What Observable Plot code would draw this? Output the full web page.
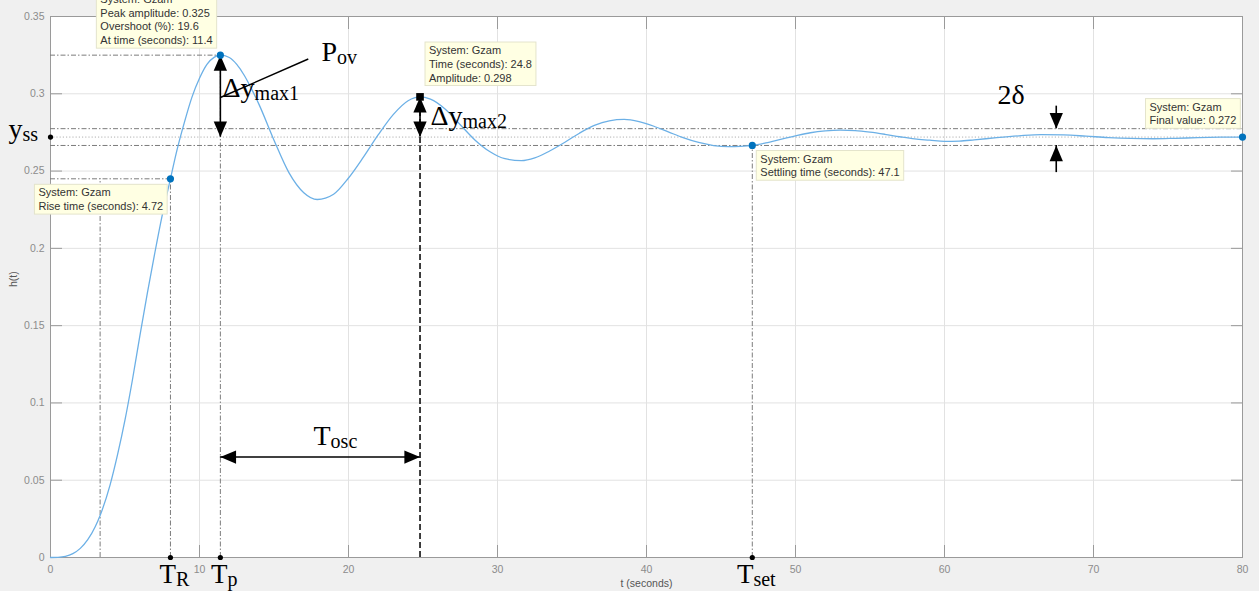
<!DOCTYPE html>
<html>
<head>
<meta charset="utf-8">
<script src="https://cdn.jsdelivr.net/npm/d3@7"></script>
<script src="https://cdn.jsdelivr.net/npm/@observablehq/plot@0.6"></script>
<style>
  html, body { margin: 0; padding: 0; background: #f0f0f0; }
  #chart { width: 1259px; height: 591px; overflow: hidden; }
</style>
</head>
<body>
<div id="chart"></div>
<script>
// Step response h(t) of the system Gzam (time in seconds)
const tValues = [0, 0.5, 1, 1.5, 2, 2.5, 3, 3.33, 4, 4.5, 5, 5.5, 6, 6.5, 7, 7.5, 8.05, 8.5, 9, 9.5, 10, 10.5, 11, 11.4,
  12, 12.5, 13, 13.5, 14, 15, 16, 17, 17.9, 19, 20, 21, 22, 23, 24, 24.8, 25.5, 26.5, 27.5, 28.5, 29.5, 30.5, 31.6,
  32.5, 33.5, 34.5, 35.5, 36.5, 37.5, 38.5, 39.5, 40.5, 41.5, 42.5, 43.5, 44.5, 45.5, 46.3, 47.1, 48, 49, 50, 51, 52,
  53, 54, 55, 56, 57, 58, 59, 60, 61, 62, 63.5, 65, 66.5, 68, 69.5, 71, 72.5, 74, 75.5, 77, 78.5, 80];
const hValues = [0, 0.0001, 0.0007, 0.0025, 0.0059, 0.0115, 0.0199, 0.0272, 0.047, 0.0665, 0.089, 0.115, 0.1435, 0.171, 0.197, 0.2215, 0.245, 0.264, 0.282, 0.298, 0.31, 0.319, 0.3237, 0.325,
  0.3235, 0.319, 0.312, 0.303, 0.293, 0.27, 0.249, 0.236, 0.2316, 0.235, 0.2455, 0.259, 0.2735, 0.2865, 0.2955, 0.298, 0.2965, 0.29, 0.28, 0.27, 0.2625, 0.258, 0.2567,
  0.2585, 0.263, 0.2685, 0.2745, 0.2795, 0.2825, 0.2834, 0.282, 0.279, 0.2752, 0.2715, 0.2685, 0.2665, 0.2658, 0.266, 0.2666, 0.2682, 0.2705, 0.2728, 0.2748, 0.276,
  0.2765, 0.2762, 0.2752, 0.2738, 0.2722, 0.2708, 0.27, 0.2692, 0.2694, 0.2702, 0.2716, 0.2728, 0.2736, 0.2734, 0.2726, 0.2717, 0.2711, 0.2709, 0.2712, 0.2716, 0.2719, 0.272];

// Step-response characteristics
const riseEnd = 8.05, riseTime = 4.72, riseLevel = 0.245;
const peakTime = 11.4, peakAmplitude = 0.325, overshoot = 19.6;
const secondPeakTime = 24.8, secondPeakAmplitude = 0.298;
const settlingTime = 47.1;
const finalValue = 0.272;
const bandTolerance = 0.02;
const toscLevel = 0.065;               // height of the T_osc arrow
const deltaArrowTime = 67.5;           // where the 2δ arrows sit
const deltaArrowEnds = [0.292, 0.249]; // tails of the two 2δ arrows
const povLeader = {t1: peakTime, h1: 0.2976, t2: 17.3, h2: 0.3225};

// Axes
const xTicks = [0, 10, 20, 30, 40, 50, 60, 70, 80];
const xTickLabels = ["0", "10", "20", "30", "40", "50", "60", "70", "80"];
const yTicks = [0, 0.05, 0.1, 0.15, 0.2, 0.25, 0.3, 0.35];
const yTickLabels = ["0", "0.05", "0.1", "0.15", "0.2", "0.25", "0.3", "0.35"];

// Symbol labels (main letter + subscript) and their anchors
const freeSymbols = [
  {main: "P", sub: "ov", t: 18.19, h: 0.3215},
  {main: "\u0394y", sub: "max1", t: 11.55, h: 0.2976},
  {main: "\u0394y", sub: "max2", t: 25.5, h: 0.2795},
  {main: "T", sub: "osc", t: 17.65, h: 0.0725},
  {main: "2\u03b4", sub: "", t: 63.56, h: 0.2937},
  {main: "y", sub: "ss", t: -2.82, h: 0.2711}
];
const timeSymbols = [
  {main: "T", sub: "R", t: riseEnd},
  {main: "T", sub: "p", t: peakTime},
  {main: "T", sub: "set", t: settlingTime}
];

// Data-tip contents
const riseStart = +(riseEnd - riseTime).toFixed(2);
const bandLow = finalValue * (1 - bandTolerance);
const bandHigh = finalValue * (1 + bandTolerance);
const tips = [
  {t: peakTime, h: peakAmplitude, lines: ["System: Gzam", `Peak amplitude: ${peakAmplitude}`, `Overshoot (%): ${overshoot}`, `At time (seconds): ${peakTime}`]},
  {t: riseEnd, h: riseLevel, lines: ["System: Gzam", `Rise time (seconds): ${riseTime}`]},
  {t: secondPeakTime, h: secondPeakAmplitude, lines: ["System: Gzam", `Time (seconds): ${secondPeakTime}`, `Amplitude: ${secondPeakAmplitude}`]},
  {t: settlingTime, h: bandLow, lines: ["System: Gzam", `Settling time (seconds): ${settlingTime}`]},
  {t: 80, h: finalValue, lines: ["System: Gzam", `Final value: ${finalValue}`]}
];
// pixel offsets of each data-tip text block from its point
const tipOffsets = [[-120, -36], [-132, 20], [9, -33.5], [8, 19.5], [-93, -24]];

const response = tValues.map((t, i) => ({t, h: hValues[i]}));

// Filled arrowhead with its tip at the origin, pointing up
const arrowHead = {
  draw(context, size) {
    const r = Math.sqrt(size / Math.PI);
    context.moveTo(0, 0);
    context.lineTo(-0.7 * r, 1.65 * r);
    context.lineTo(0.7 * r, 1.65 * r);
    context.closePath();
  }
};
const heads = [
  {t: peakTime, h: peakAmplitude, dir: 0},
  {t: peakTime, h: finalValue, dir: 180},
  {t: secondPeakTime, h: secondPeakAmplitude, dir: 0},
  {t: secondPeakTime, h: finalValue, dir: 180},
  {t: peakTime, h: toscLevel, dir: -90},
  {t: secondPeakTime, h: toscLevel, dir: 90},
  {t: deltaArrowTime, h: bandHigh, dir: 180},
  {t: deltaArrowTime, h: bandLow, dir: 0}
];

const guide = {stroke: "#7c7c7c", strokeWidth: 1, strokeDasharray: "5,2,1.5,2"};
const ink = {stroke: "black", strokeWidth: 1.6};
const serif = "'Liberation Serif', 'Times New Roman', serif";
const sans = "'Liberation Sans', Arial, Helvetica, sans-serif";
const axisGray = "#9a9a9a";

const plot = Plot.plot({
  width: 1259,
  height: 591,
  marginTop: 16,
  marginRight: 17,
  marginBottom: 34,
  marginLeft: 50,
  style: {background: "transparent", fontFamily: sans, overflow: "hidden"},
  x: {domain: [0, 80]},
  y: {domain: [0, 0.35]},
  marks: [
    Plot.frame({fill: "white", stroke: "none"}),
    Plot.gridX(xTicks, {stroke: "#e2e2e2", strokeOpacity: 1}),
    Plot.gridY(yTicks, {stroke: "#e2e2e2", strokeOpacity: 1}),

    // inward ticks on all four sides
    Plot.axisX(xTicks, {anchor: "bottom", tickSize: -12, fill: "none", stroke: axisGray, label: null}),
    Plot.axisX(xTicks, {anchor: "top", tickSize: -12, fill: "none", stroke: axisGray, label: null}),
    Plot.axisY(yTicks, {anchor: "left", tickSize: -12, fill: "none", stroke: axisGray, label: null}),
    Plot.axisY(yTicks, {anchor: "right", tickSize: -12, fill: "none", stroke: axisGray, label: null}),
    // tick labels
    Plot.axisX(xTicks, {anchor: "bottom", tickSize: 0, tickPadding: 8, fill: "#8c8c8c", fontSize: 10.5, label: null,
      tickFormat: d => xTickLabels[xTicks.indexOf(d)]}),
    Plot.axisY(yTicks, {anchor: "left", tickSize: 0, tickPadding: 6, fill: "#8c8c8c", fontSize: 10.5, label: null,
      tickFormat: d => yTickLabels[yTicks.indexOf(d)]}),
    Plot.frame({stroke: axisGray, fill: "none"}),
    Plot.text(["t (seconds)"], {frameAnchor: "bottom", lineAnchor: "bottom", dy: 29, fontSize: 10.5, fill: "#555"}),
    Plot.text(["h(t)"], {frameAnchor: "left", rotate: -90, dx: -37, fontSize: 10.5, fill: "#555"}),

    // step-info guide lines
    Plot.ruleY([bandLow, bandHigh], {y: d => d, ...guide}),
    Plot.ruleY([finalValue], {y: d => d, stroke: "#b0b0b0", strokeDasharray: "1.2,2"}),
    Plot.ruleY([peakAmplitude], {y: d => d, x1: 0, x2: peakTime, ...guide}),
    Plot.ruleX([peakTime], {x: d => d, y1: 0, y2: peakAmplitude, ...guide}),
    Plot.ruleY([riseLevel], {y: d => d, x1: 0, x2: riseEnd, ...guide}),
    Plot.ruleX([riseStart, riseEnd], {x: d => d, y1: 0, y2: riseLevel, ...guide}),
    Plot.ruleX([settlingTime], {x: d => d, y1: 0, y2: bandLow, ...guide}),
    Plot.ruleX([secondPeakTime], {x: d => d, y1: 0, y2: secondPeakAmplitude, stroke: "black", strokeWidth: 1.5, strokeDasharray: "6,3"}),

    // response curve
    Plot.line(response, {x: "t", y: "h", stroke: "#6cb0e6", strokeWidth: 1.3, curve: "monotone-x"}),

    // annotation arrows
    Plot.ruleX([peakTime], {x: d => d, y1: peakAmplitude, y2: finalValue, ...ink}),
    Plot.ruleX([secondPeakTime], {x: d => d, y1: secondPeakAmplitude, y2: finalValue, ...ink}),
    Plot.ruleY([toscLevel], {y: d => d, x1: peakTime, x2: secondPeakTime, ...ink}),
    Plot.ruleX([deltaArrowTime], {x: d => d, y1: deltaArrowEnds[0], y2: bandHigh, ...ink}),
    Plot.ruleX([deltaArrowTime], {x: d => d, y1: deltaArrowEnds[1], y2: bandLow, ...ink}),
    Plot.link([povLeader], {x1: "t1", y1: "h1", x2: "t2", y2: "h2", stroke: "black", strokeWidth: 1.4}),
    Plot.dot(heads, {x: "t", y: "h", rotate: "dir", symbol: arrowHead, r: 9.5, fill: "black", stroke: "none"}),

    // markers
    Plot.dot([riseEnd, peakTime, settlingTime], {x: d => d, y: 0, r: 2.6, fill: "black"}),
    Plot.dot([finalValue], {x: 0, y: d => d, r: 2.6, fill: "black"}),
    Plot.dot([[riseEnd, riseLevel], [peakTime, peakAmplitude], [settlingTime, bandLow], [80, finalValue]],
      {x: d => d[0], y: d => d[1], r: 3.6, fill: "#0072BD"}),
    Plot.dot([[secondPeakTime, secondPeakAmplitude]], {x: d => d[0], y: d => d[1], symbol: "square", r: 4.3, fill: "black"}),

    // symbol labels
    Plot.text(freeSymbols, {x: "t", y: "h", text: d => d.main + d.sub, textAnchor: "start", lineAnchor: "bottom",
      fontFamily: serif, fontSize: 28, fill: "black", ariaLabel: () => "symbol"}),
    Plot.text(timeSymbols, {x: "t", y: 0, text: d => d.main + d.sub, textAnchor: "middle", lineAnchor: "bottom",
      dx: 4, dy: 25, fontFamily: serif, fontSize: 27, fill: "black", ariaLabel: () => "symbol"}),

    // data tips
    ...tips.map((tip, i) => Plot.text([tip], {x: "t", y: "h", text: d => d.lines.join("\n"),
      dx: tipOffsets[i][0], dy: tipOffsets[i][1], textAnchor: "start", lineAnchor: "middle",
      lineHeight: 1.25, fontSize: 11, fill: "#333", fontFamily: sans, ariaLabel: () => "datatip"}))
  ]
});

document.getElementById("chart").appendChild(plot);

const NS = "http://www.w3.org/2000/svg";
// subscripts for the symbol labels
const allSymbols = [...freeSymbols, ...timeSymbols];
plot.querySelectorAll('text[aria-label="symbol"]').forEach((el, i) => {
  const s = allSymbols[i];
  el.textContent = "";
  const a = document.createElementNS(NS, "tspan");
  a.textContent = s.main;
  el.appendChild(a);
  if (s.sub) {
    const b = document.createElementNS(NS, "tspan");
    b.setAttribute("font-size", "20");
    b.setAttribute("dy", "3");
    b.textContent = s.sub;
    el.appendChild(b);
  }
});
// pale boxes behind the data tips
plot.querySelectorAll('text[aria-label="datatip"]').forEach(el => {
  const b = el.getBBox();
  const r = document.createElementNS(NS, "rect");
  r.setAttribute("x", b.x - 4);
  r.setAttribute("y", b.y - 2);
  r.setAttribute("width", b.width + 8);
  r.setAttribute("height", b.height + 4);
  r.setAttribute("fill", "#ffffe3");
  r.setAttribute("stroke", "#e4e4cc");
  r.setAttribute("stroke-width", "1");
  const tr = el.getAttribute("transform");
  if (tr) r.setAttribute("transform", tr);
  el.parentNode.insertBefore(r, el);
});
</script>
</body>
</html>
